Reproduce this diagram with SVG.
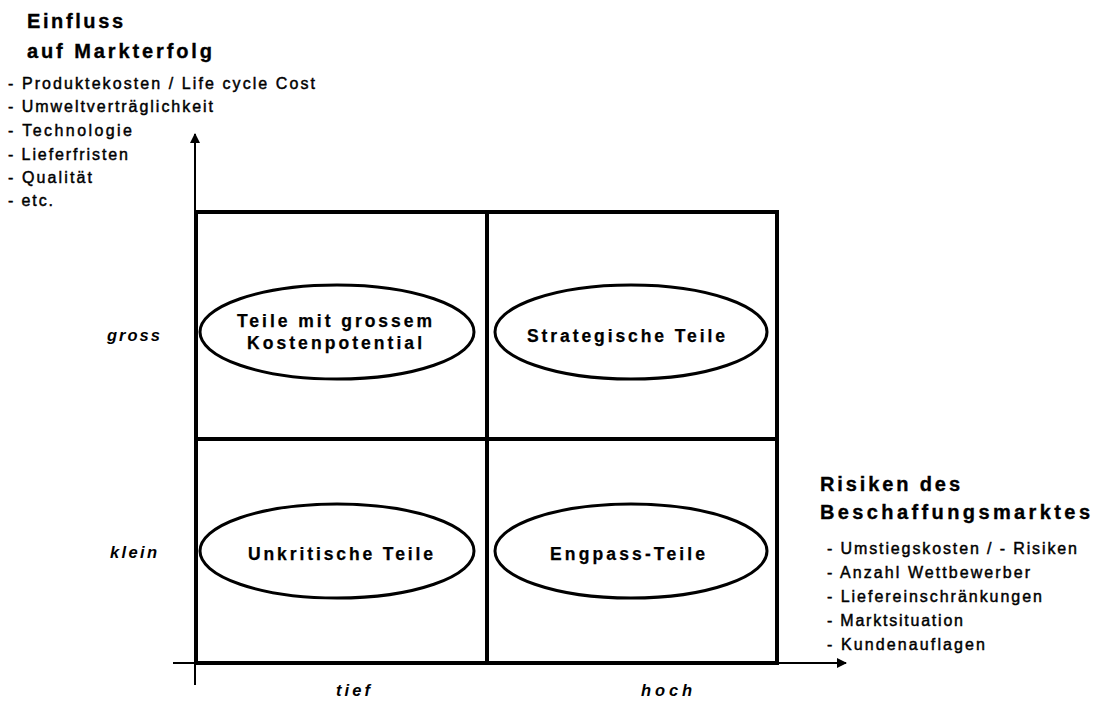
<svg xmlns="http://www.w3.org/2000/svg" width="1093" height="702" viewBox="0 0 1093 702">
<style>
text{font-family:"Liberation Sans",Arial,sans-serif;fill:#000}
.title{font-size:20px;font-weight:bold;stroke:#000;stroke-width:0.35}
.item{font-size:16px;stroke:#000;stroke-width:0.45}
.lbl{font-size:17.5px;font-weight:bold;stroke:#000;stroke-width:0.25}
.ax{font-size:16.5px;font-weight:bold;font-style:italic}
.ell{fill:#fff;stroke:#000;stroke-width:3}
.grid{fill:none;stroke:#000;stroke-width:4}
.axis{stroke:#000;stroke-width:2;fill:none}
</style>
<defs>
<marker id="arr" viewBox="0 0 10 10" refX="9" refY="5" markerWidth="5" markerHeight="5" orient="auto" markerUnits="strokeWidth">
<path d="M0,0 L10,5 L0,10 z" fill="#000"/>
</marker>
</defs>
<rect width="1093" height="702" fill="#fff"/>
<g id="connectors">
<line class="axis" x1="195" y1="685" x2="195" y2="134" marker-end="url(#arr)"/>
<line class="axis" x1="173" y1="663" x2="846" y2="663" marker-end="url(#arr)"/>
<rect class="grid" x="196" y="212" width="581" height="451"/>
<line class="grid" x1="487" y1="212" x2="487" y2="663"/>
<line class="grid" x1="196" y1="439" x2="777" y2="439"/>
</g>
<g id="y-axis-label">
<text class="title" x="27" y="28" textLength="96" lengthAdjust="spacing">Einfluss</text>
<text class="title" x="27" y="58" textLength="185" lengthAdjust="spacing">auf Markterfolg</text>
<text class="item" x="8" y="89" textLength="307" lengthAdjust="spacing">- Produktekosten / Life cycle Cost</text>
<text class="item" x="8" y="112" textLength="205" lengthAdjust="spacing">- Umweltverträglichkeit</text>
<text class="item" x="8" y="136" textLength="124" lengthAdjust="spacing">- Technologie</text>
<text class="item" x="8" y="160" textLength="120" lengthAdjust="spacing">- Lieferfristen</text>
<text class="item" x="8" y="183" textLength="84" lengthAdjust="spacing">- Qualität</text>
<text class="item" x="8" y="206" textLength="45" lengthAdjust="spacing">- etc.</text>
</g>
<g id="x-axis-label">
<text class="title" x="820" y="491" textLength="140" lengthAdjust="spacing">Risiken des</text>
<text class="title" x="820" y="519" textLength="270" lengthAdjust="spacing">Beschaffungsmarktes</text>
<text class="item" x="827" y="554" textLength="250" lengthAdjust="spacing">- Umstiegskosten / - Risiken</text>
<text class="item" x="827" y="578" textLength="203" lengthAdjust="spacing">- Anzahl Wettbewerber</text>
<text class="item" x="827" y="602" textLength="215" lengthAdjust="spacing">- Liefereinschränkungen</text>
<text class="item" x="827" y="626" textLength="136" lengthAdjust="spacing">- Marktsituation</text>
<text class="item" x="827" y="650" textLength="158" lengthAdjust="spacing">- Kundenauflagen</text>
</g>
<g id="tick-labels">
<text class="ax" x="107" y="341" textLength="53" lengthAdjust="spacing">gross</text>
<text class="ax" x="110" y="558" textLength="47" lengthAdjust="spacing">klein</text>
<text class="ax" x="336" y="696" textLength="34" lengthAdjust="spacing">tief</text>
<text class="ax" x="641" y="696" textLength="51" lengthAdjust="spacing">hoch</text>
</g>
<g id="node-kostenpotential">
<ellipse class="ell" cx="337" cy="332" rx="137" ry="47"/>
<text class="lbl" x="237" y="327" textLength="195" lengthAdjust="spacing">Teile mit grossem</text>
<text class="lbl" x="247" y="349" textLength="175" lengthAdjust="spacing">Kostenpotential</text>
</g>
<g id="node-strategisch">
<ellipse class="ell" cx="631" cy="332" rx="136" ry="47"/>
<text class="lbl" x="527" y="342" textLength="198" lengthAdjust="spacing">Strategische Teile</text>
</g>
<g id="node-unkritisch">
<ellipse class="ell" cx="337" cy="551" rx="137" ry="47"/>
<text class="lbl" x="248" y="560" textLength="185" lengthAdjust="spacing">Unkritische Teile</text>
</g>
<g id="node-engpass">
<ellipse class="ell" cx="631" cy="551" rx="136" ry="47"/>
<text class="lbl" x="550" y="560" textLength="155" lengthAdjust="spacing">Engpass-Teile</text>
</g>
</svg>
